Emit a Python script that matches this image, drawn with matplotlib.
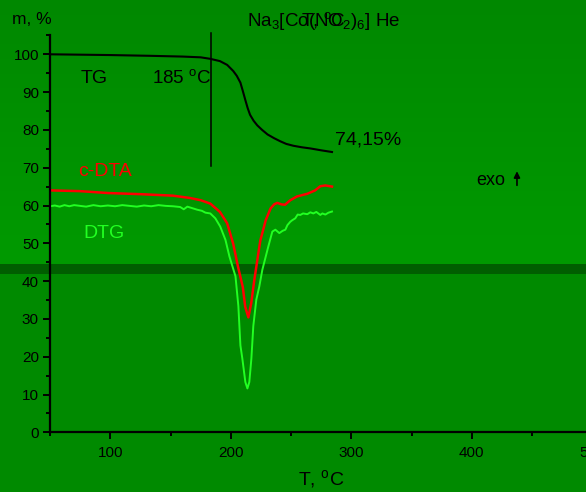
import numpy as np
import matplotlib
matplotlib.use("Agg")
import matplotlib.pyplot as plt

plt.rcParams['font.family'] = ['Liberation Sans', 'DejaVu Sans']
plt.rcParams['mathtext.default'] = 'regular'

# TG (mass, %)
t_tg = [50, 100, 133, 160, 175, 183, 191, 197, 202, 205, 208, 210, 212, 214, 216, 219, 222, 226,
        230.5, 236, 241, 246, 252, 259, 266, 275, 284]
m_tg = [100, 99.8, 99.6, 99.4, 99.2, 98.8, 98.2, 97.2, 95.6, 94.3, 92.5, 90.3, 88.0, 85.8, 84.0, 82.4,
        81.2, 80.0, 78.8, 77.8, 77.0, 76.3, 75.8, 75.4, 75.1, 74.6, 74.15]

# c-DTA
t_dta = [50, 75, 98, 125, 152, 166, 175, 183, 191, 197, 202, 206, 210, 212, 214.6, 217, 219.5, 222,
         224.5, 229, 233, 236, 238.6, 242, 245, 249.4, 255, 263.5, 270, 274.3, 278.5, 284]
v_dta = [64.0, 63.8, 63.3, 63.0, 62.6, 62.0, 61.4, 60.5, 58.3, 55.3, 49.9, 43.8, 38.4, 33.2, 30.4,
         34.2, 40.2, 45.5, 50.7, 56.1, 59.2, 60.3, 60.7, 60.3, 60.2, 61.4, 62.4, 63.1, 64.0, 65.1, 65.3, 65.0]

# DTG
t_dtg = [50, 54, 58, 62, 66, 70, 75, 80, 86, 92, 98, 104, 110, 116, 122, 128, 134, 140, 146, 152,
         158, 161, 164, 168, 172, 176, 179, 183, 187.2, 191.3, 195.6, 198.9, 201.4, 203.9, 206.3, 208,
         209.6, 212.1, 213.8, 215.4, 217.1, 218.7, 221.2, 223.7, 226.2, 228.7, 231.2, 234.5, 237,
         240.3, 243, 245.3, 247, 249.4, 251, 253.5, 255.5, 257.7, 260, 263.5, 266, 268.5, 271, 274.3,
         276, 278.5, 281, 284]
v_dtg = [59.8, 60.0, 59.7, 60.1, 59.8, 60.1, 59.9, 59.7, 60.1, 59.8, 60.0, 59.8, 60.1, 59.9, 59.7,
         60.0, 59.8, 60.1, 59.9, 59.8, 59.6, 59.0, 59.7, 59.3, 58.9, 58.6, 58.1, 57.9, 56.6, 54.4, 50.9,
         46.5, 43.9, 41.3, 33.4, 23.0, 19.5, 13.3, 11.6, 13.3, 19.5, 28.1, 35.1, 38.6, 43.0, 46.1, 49.2,
         53.1, 53.6, 52.7, 53.3, 53.6, 54.8, 55.7, 56.1, 56.6, 57.6, 57.5, 57.9, 57.7, 58.2, 57.9, 58.3,
         57.5, 57.9, 57.6, 58.1, 58.4]

fig = plt.figure(figsize=(5.86, 4.92), dpi=100)

# background: green gradient with a dark band
bg = fig.add_axes([0, 0, 1, 1], zorder=-10)
rows = np.zeros((492, 1, 3))
for i in range(492):
    if i < 264:
        g = 0x88 + (0x9a - 0x88) * i / 264
    elif i < 274:
        g = 0x5e
    else:
        g = 0x8a
    rows[i, 0] = (0, g / 255, 0)
bg.imshow(rows, aspect='auto', extent=[0, 1, 0, 1])
bg.axis('off')

ax = fig.add_axes([50 / 586, 59.7 / 492, 542.3 / 586, 396.9 / 492])
ax.patch.set_alpha(0)

ax.plot(t_tg, m_tg, color='black', lw=1.5)
ax.plot(t_dta, v_dta, color='#ff0000', lw=1.8)
ax.plot(t_dtg, v_dtg, color='#22ff22', lw=1.4)
ax.plot([184, 184], [70.4, 105.6], color='black', lw=1.1, clip_on=False)

ax.set_xlim(50, 500)
ax.set_ylim(0, 105)
for s in ['top', 'right']:
    ax.spines[s].set_visible(False)
for s in ['left', 'bottom']:
    ax.spines[s].set_linewidth(1.6)

ax.set_xticks([100, 200, 300, 400, 500])
ax.set_xticks(np.arange(50, 501, 100), minor=True)
ax.set_yticks(np.arange(0, 101, 10))
ax.set_yticks(np.arange(5, 106, 10), minor=True)
ax.tick_params(which='major', length=5, width=1.4, labelsize=11, pad=3)
ax.tick_params(which='minor', length=3, width=1.4)
ax.tick_params(axis='x', which='major', pad=5)

ax.text(75, 93.6, 'TG', fontsize=14, va='center')
ax.text(134.5, 93.6, '185 $^o$C', fontsize=13.5, va='center')
ax.text(73.5, 69.0, 'c-DTA', fontsize=14, va='center', color='#ff0000')
ax.text(77.5, 52.6, 'DTG', fontsize=14, va='center', color='#22ff22')
ax.text(286.5, 77.2, '74,15%', fontsize=14, va='center')
ax.text(403.5, 66.5, 'exo', fontsize=13, va='center')
ax.annotate('', xy=(437.5, 69.8), xytext=(437.5, 64.6),
            arrowprops=dict(arrowstyle='-|>', color='black', lw=1.2, mutation_scale=9))

fig.text(12 / 586, 1 - 20 / 492, 'm, %', fontsize=12.5, va='center')
fig.text(321 / 586, 1 - 479 / 492, 'T, $^o$C', fontsize=14, va='center', ha='center')
fig.text(247 / 586, 1 - 26 / 492, 'Na$_3$[Co(NO$_2$)$_6$] He', fontsize=13.5, va='baseline')
fig.text(301 / 586, 1 - 26 / 492, 'T, $^o$C', fontsize=13.5, va='baseline')

fig.savefig('out.png', dpi=100)
